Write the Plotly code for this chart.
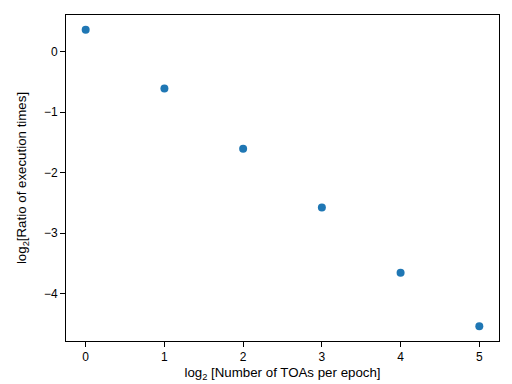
import plotly.graph_objects as go

x_vals = [0, 1, 2, 3, 4, 5]
y_vals = [0.358, -0.611, -1.606, -2.579, -3.657, -4.538]

fig = go.Figure()
fig.add_trace(go.Scatter(
    x=x_vals, y=y_vals, mode="markers",
    marker=dict(color="#1f77b4", size=8, line=dict(width=0)),
    showlegend=False, cliponaxis=False,
))

FONT = "Liberation Sans, Arial, sans-serif"

axis_common = dict(
    showline=True, linecolor="black", linewidth=1, mirror=True,
    ticks="outside", ticklen=5, tickwidth=1, tickcolor="black",
    showgrid=False, zeroline=False, automargin=False,
    tickfont=dict(family=FONT, size=12, color="black"),
)

fig.update_layout(
    width=512, height=384,
    margin=dict(l=66, r=13, t=15, b=43),
    paper_bgcolor="white", plot_bgcolor="white",
    font=dict(family=FONT, size=12, color="black"),
    xaxis=dict(range=[-0.25, 5.25], tickvals=[0, 1, 2, 3, 4, 5],
               title=dict(text="log<sub>2</sub> [Number of TOAs per epoch]", standoff=4,
                          font=dict(family=FONT, size=13.3)),
               **axis_common),
    yaxis=dict(range=[-4.783, 0.603], tickvals=[0, -1, -2, -3, -4],
               title=dict(text="log<sub>2</sub>[Ratio of execution times]", standoff=14,
                          font=dict(family=FONT, size=13.3)),
               **axis_common),
)

fig.write_html("out.html", config={"displayModeBar": False},
               post_script="document.body.style.margin='0';document.body.style.overflow='hidden';")
